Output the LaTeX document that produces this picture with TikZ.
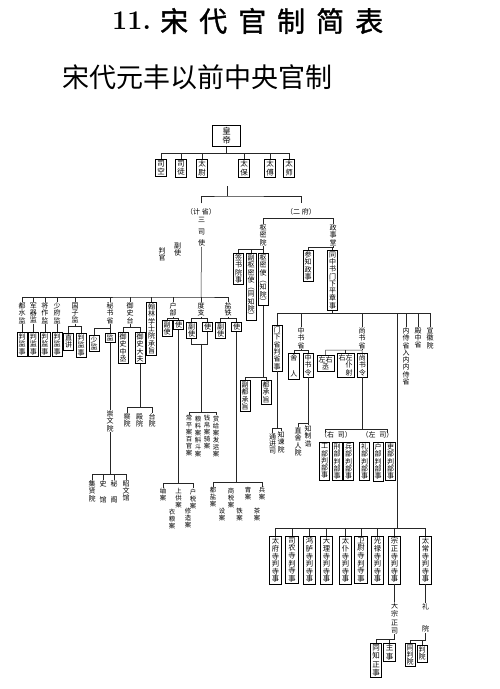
\documentclass[tikz,border=0pt]{standalone}
\usepackage{fontspec}
\newfontfamily\cjk{Noto Sans CJK SC}
\newfontfamily\cjkbold{Noto Sans CJK SC}[FakeBold=1.2]
\usetikzlibrary{positioning}
% vertical text: one character per line
\newcommand\vt[1]{\vtfirst#1\relax}
\def\vtfirst#1{#1\vtrest}
\def\vtrest#1{\ifx#1\relax\expandafter\vtstop\else\expandafter\vtgo\fi{#1}}
\def\vtstop#1{}
\def\vtgo#1{\\#1\vtrest}

\begin{document}
\begin{tikzpicture}
[x=1pt,y=-1pt,
lab/.style={font=\cjk\fontsize{7}{7.3}\selectfont,align=center,inner sep=0.4pt,anchor=north},
sm/.style={lab,font=\cjk\fontsize{6.4}{7}\selectfont},
box/.style={lab,draw,line width=0.55pt,inner xsep=1.6pt,inner ysep=1.4pt},
topbox/.style={box,font=\cjk\fontsize{7.5}{8.5}\selectfont},
sibox/.style={box,font=\cjk\fontsize{7.3}{7.6}\selectfont,inner xsep=2.6pt},
bigbox/.style={box,font=\cjk\fontsize{7.5}{8.3}\selectfont,inner xsep=2pt},
hlab/.style={font=\cjk\fontsize{7}{8}\selectfont,inner sep=0pt},
myedge/.style={line width=0.5pt,draw=black!85}]

\fill[white] (0,0) rectangle (500,689);
\useasboundingbox (0,0) rectangle (500,689);

% titles
\node (t1) [anchor=west,inner sep=0pt] at (112,21) {\fontsize{27}{30}\selectfont\bfseries 11.};
\node (t1b) [anchor=west,inner sep=0pt,font=\cjkbold\fontsize{28}{30}\selectfont] at (160,21)
  {宋\hspace{11pt}代\hspace{11pt}官\hspace{11pt}制\hspace{11pt}简\hspace{11pt}表};
\node (t2) [inner sep=0pt,font=\cjk\fontsize{27}{30}\selectfont] at (197.5,77.5) {宋代元丰以前中央官制};

% emperor and the six honorary posts
\node (emp) [box,font=\cjk\fontsize{8.5}{9.5}\selectfont,inner xsep=9.5pt,inner ysep=2pt] at (226.5,125) {\vt{皇帝}};
\node (sk) [topbox] at (161,159) {\vt{司空}};
\node (st) [topbox] at (181,159) {\vt{司徒}};
\node (tw) [topbox] at (202,159) {\vt{太尉}};
\node (tb) [topbox] at (244,159) {\vt{太保}};
\node (tf) [topbox] at (270,159) {\vt{太傅}};
\node (ts) [topbox] at (289,159) {\vt{太师}};
\draw[myedge] (emp.south) -- ++(0,6) coordinate (e1);
\draw[myedge] (sk.north) |- (e1) -| (ts.north);
\foreach \n in {st,tw,tb,tf} \draw[myedge] (\n.north) -- (\n.north |- e1);

% jisheng / erfu
\coordinate (c2) at (227,186);
\draw[myedge] (c2) -- ++(0,10) coordinate (e2);
\node (jsh) [hlab] at (201,212) {（计 省）};
\node (ef) [hlab] at (301,212) {（二 府）};
\draw[myedge] (jsh.north) ++(0,-5) |- (e2) -| ([yshift=5pt]ef.north);

\node (ssu) [lab,font=\cjk\fontsize{7}{11.5}\selectfont] at (201.5,217) {\vt{三司使}};
\node (fs0) [lab] at (177.5,242) {\vt{副使}};
\node (pg0) [lab] at (162,247) {\vt{判官}};

% left row of offices
\node (dsj) [lab] at (22,302) {\vt{都水监}};
\node (jqj) [lab] at (33.5,302) {\vt{军器监}};
\node (jzj) [lab] at (45,302) {\vt{将作监}};
\node (sfj) [lab] at (57,302) {\vt{少府监}};
\node (gzj) [lab] at (75,302) {\vt{国子监}};
\node (msh) [lab] at (110,302) {\vt{秘书省}};
\node (yst) [lab] at (130,302) {\vt{御史台}};
\node (hl) [box] at (151.5,302) {\vt{翰林学士院承旨}};
\node (hb) [lab] at (173,302) {\vt{户部}};
\node (dz) [lab] at (201,302) {\vt{度支}};
\node (yt) [lab] at (228,302) {\vt{盐铁}};
\coordinate (b3) at (201,297);
\draw[myedge] (ssu.south) -- (b3);
\draw[myedge] (dsj.north) |- (b3) -| (yt.north);
\foreach \n in {jqj,jzj,sfj,gzj,msh,yst,hl,hb,dz} \draw[myedge] (\n.north) -- (\n.north |- b3);

\node (dsj1) [box] at (22,332) {\vt{判监事}};
\node (jqj1) [box] at (33.5,332) {\vt{判监事}};
\node (jzj1) [box] at (45,332) {\vt{判监事}};
\node (sfj1) [box] at (57,332) {\vt{判监事}};
\foreach \n in {dsj,jqj,jzj,sfj} \draw[myedge] (\n.south) -- (\n1.north);

\node (zj) [box] at (68.5,333) {\vt{直讲}};
\node (gzj1) [box] at (81,333) {\vt{判监事}};
\draw[myedge] (gzj.south) -- ++(0,3) coordinate (g1);
\draw[myedge] (zj.north) |- (g1) -| (gzj1.north);

\node (sj) [box] at (94,335) {\vt{少监}};
\node (jian) [box] at (110,333) {监};
\draw[myedge] (msh.south) -- ++(0,4) coordinate (m1);
\draw[myedge] (sj.north) |- (m1) -- (jian.north);

\node (cwy) [lab] at (110,410) {\vt{崇文院}};
\draw[myedge] (jian.south) -- (cwy.north);
\node (jxy) [lab] at (92,480) {\vt{集贤院}};
\node (sg) [lab] at (103,480) {史\\[8.5pt]馆};
\node (mg) [lab] at (114,480) {秘\\[8.5pt]阁};
\node (zwg) [lab] at (126,480) {\vt{昭文馆}};
\draw[myedge] (jxy.north) -- ++(0,-6) coordinate (c1) -| (zwg.north);
\draw[myedge] (cwy.south) -- (cwy.south |- c1);
\foreach \n in {sg,mg} \draw[myedge] (\n.north) -- (\n.north |- c1);

\node (yszc) [box] at (123,332) {\vt{御史中丞}};
\node (ysdf) [box] at (140,332) {\vt{御史大夫}};
\draw[myedge] (yst.south) -- ++(0,3) coordinate (y1);
\draw[myedge] (yszc.north) |- (y1) -| (ysdf.north);
\node (cy) [lab] at (127,413) {\vt{察院}};
\node (dy) [lab] at (139.5,413) {\vt{殿院}};
\node (ty) [lab] at (152,413) {\vt{台院}};
\draw[myedge] (cy.north) -- ++(0,-6) coordinate (y2) -| (ty.north);
\draw[myedge] (ysdf.south) -- (ysdf.south |- y2);

% sansi: hubu
\node (hbf) [box] at (167,320) {\vt{副使}};
\node (hbs) [box] at (178.5,320) {使};
\draw[myedge] (hb.south) -- ++(0,1.5) coordinate (h1);
\draw[myedge] (hbf.north) |- (h1) -| (hbs.north);
\node (ca) [sm] at (163,488) {\vt{䌷案}};
\node (sga) [sm] at (178.5,488) {\vt{上供案}};
\node (hsa) [sm] at (193,488) {\vt{户税案}};
\node (yla) [sm] at (172,508) {\vt{衣粮案}};
\node (xza) [sm] at (188,508) {\vt{修造案}};
\draw[myedge] (ca.north) -- ++(0,-5) coordinate (h2) -| (hsa.north);
\draw[myedge] (hbs.south) -- (hbs.south |- h2);

% sansi: duzhi
\node (dzf) [box] at (191.5,322) {\vt{副使}};
\node (dzs) [box] at (207.5,322) {使};
\draw[myedge] (dz.south) -- ++(0,1.5) coordinate (d1);
\draw[myedge] (dzf.north) |- (d1) -| (dzs.north);
\draw[myedge] (dzf.south) -- ++(0,5) coordinate (d2) -| (dzs.south);
\node (cpa) [sm] at (189,415) {\vt{常平案百官案}};
\node (lla) [sm] at (198,415) {\vt{粮料案斛斗案}};
\node (qba) [sm] at (207,415) {\vt{钱帛案骑案}};
\node (sja) [sm] at (216,415) {\vt{赏给案发运案}};
\draw[myedge] (cpa.north) -- ++(0,-3) coordinate (d3) -| (sja.north);
\draw[myedge] (dz.south |- d2) -- (dz.south |- d3);

% sansi: yantie
\node (ytf) [box] at (220.5,322) {\vt{副使}};
\node (yts) [box] at (236.5,322) {使};
\draw[myedge] (yt.south) -- ++(0,1.5) coordinate (s1);
\draw[myedge] (ytf.north) |- (s1) -| (yts.north);
\node (dya) [sm] at (213,487) {\vt{都盐案}};
\node (ssa) [sm] at (231,487) {\vt{商税案}};
\node (zha) [sm] at (248,487) {\vt{胄案}};
\node (bga) [sm] at (262,487) {\vt{兵案}};
\node (sha) [sm] at (222,508) {\vt{设案}};
\node (tea) [sm] at (239.5,508) {\vt{铁案}};
\node (cha) [sm] at (257,508) {\vt{茶案}};
\draw[myedge] (dya.north) -- ++(0,-5) coordinate (s2) -| (bga.north);
\draw[myedge] (yts.south) -- (yts.south |- s2);

% erfu: shumiyuan
\node (smy) [lab] at (263,224) {\vt{枢密院}};
\node (zst) [lab] at (333,224) {\vt{政事堂}};
\draw[myedge] (smy.north) -- ++(0,-6) coordinate (f1) -| (zst.north);
\node (qs) [box] at (238.5,253) {\vt{签书院事}};
\node (fsm) [box] at (251,253) {\vt{副枢密使︵同知院︶}};
\node (smsh) [box] at (263,253) {\vt{枢密使︵知院︶}};
\draw[myedge] (smy.south) -- ++(0,3) coordinate (f2);
\draw[myedge] (qs.north) |- (f2) -- (smsh.north);
\draw[myedge] (fsm.north) -- (fsm.north |- f2);
\node (fdc) [box] at (245,380) {\vt{副都承旨}};
\node (dcz) [box] at (266,380) {\vt{都承旨}};
\draw[myedge] (fdc.north) -- ++(0,-3) coordinate (f3) -| (dcz.north);
\draw[myedge] (smsh.south) -- (smsh.south |- f3);

% erfu: zhengshitang
\node (czzs) [box] at (308,250) {\vt{参知政事}};
\node (tzs) [box] at (332.5,250) {\vt{同中书门下平章事}};
\draw[myedge] (zst.south) -- ++(0,1.5) coordinate (z1);
\draw[myedge] (czzs.north) |- (z1) -| (tzs.north);
\draw[myedge] (tzs.south) -- ++(0,3) coordinate (z2);

\node (mxs) [box] at (277,325) {\vt{门下省判省事}};
\node (zss) [lab] at (301,327) {\vt{中书省}};
\node (sss) [lab] at (362,327) {\vt{尚书省}};
\node (nsh) [lab] at (406,327) {\vt{内侍省入内内侍省}};
\node (dzsh) [lab] at (418,327) {\vt{殿中省}};
\node (xhy) [lab] at (430,327) {\vt{宣徽院}};
\draw[myedge] (mxs.north) |- (z2) -| (xhy.north);
\foreach \n in {zss,sss,nsh,dzsh} \draw[myedge] (\n.north) -- (\n.north |- z2);

\node (tjs) [lab] at (272.5,433) {\vt{通进司}};
\node (zjy) [lab] at (281,431) {\vt{知谏院}};
\draw[myedge] (tjs.north) -- ++(0,-5) coordinate (x3) -| (zjy.north);
\draw[myedge] (mxs.south) -- (mxs.south |- x3);

\node (sr) [box] at (293.8,353) {舍\\[9pt]人};
\node (zsl) [box] at (308,353) {\vt{中书令}};
\draw[myedge] (zss.south) -- ++(0,1.5) coordinate (x1);
\draw[myedge] (sr.north) |- (x1) -| (zsl.north);
\node (zsry) [lab] at (298,427) {\vt{直舍人院}};
\node (zzg) [lab] at (308,425) {\vt{知制诰}};
\draw[myedge] (zsry.north) -- ++(0,-4) coordinate (x2) -| (zzg.north);
\draw[myedge] (zsl.south) -- (zsl.south |- x2);

\node (zyc) [box] at (325.7,355) {左右\\丞};
\node (zypy) [box] at (345.7,353) {右左\\\hphantom{右}仆\\\hphantom{右}射};
\node (ssl) [box] at (362.3,353) {\vt{尚书令}};
\draw[myedge] (sss.south) -- ++(0,1) coordinate (q1);
\draw[myedge] (zyc.north) |- (q1) -- (ssl.north);
\draw[myedge] (zypy.north) -- (zypy.north |- q1);

\node (ys) [hlab] at (336,435) {（右\hspace{4pt}司）};
\node (zs) [hlab] at (377.5,435) {（左\hspace{4pt}司）};
\node (gb) [box] at (324.5,442) {\vt{工部判部事}};
\node (xb) [box] at (337,442) {\vt{刑部判部事}};
\node (bb) [box] at (348.5,442) {\vt{兵部判部事}};
\node (lb) [box] at (364.5,442) {\vt{礼部判部事}};
\node (hbb) [box] at (378,442) {\vt{户部判部事}};
\node (lbs) [box] at (390.5,442) {\vt{吏部判部事}};
\coordinate (q2) at (325,429);
\coordinate (q3) at (387,429);
\draw[myedge] (q2) ++(0,4) -- (q2) -- (q3) -- ++(0,4);
\draw[myedge] (ssl.south) -- (ssl.south |- q2);

% the nine courts
\node (tfs) [sibox] at (275.5,536) {\vt{太府寺判寺事}};
\node (sns) [sibox] at (292,536) {\vt{司农寺判寺事}};
\node (hls) [sibox] at (309.5,536) {\vt{鸿胪寺判寺事}};
\node (dls) [sibox] at (326.5,536) {\vt{大理寺判寺事}};
\node (tps) [sibox] at (345.5,536) {\vt{太仆寺判寺事}};
\node (wws) [sibox] at (361,536) {\vt{卫尉寺判寺事}};
\node (gls) [sibox] at (377.5,536) {\vt{光禄寺判寺事}};
\node (zzs) [sibox] at (394.5,536) {\vt{宗正寺判寺事}};
\node (tcs) [sibox] at (425.5,536) {\vt{太常寺判寺事}};
\draw[myedge] (tfs.north) -- ++(0,-8) coordinate (w1) -| (tcs.north);
\foreach \n in {sns,hls,dls,tps,wws,gls,zzs} \draw[myedge] (\n.north) -- (\n.north |- w1);
\coordinate (lng) at (397.5,0);
\draw[myedge] (lng |- z2) -- (lng |- w1);

\node (dzzs) [lab,font=\cjk\fontsize{7}{8.3}\selectfont] at (394.5,602) {\vt{大宗正司}};
\draw[myedge] (zzs.south) -- (dzzs.north);
\node (tzzs) [bigbox] at (376,643) {\vt{同知正事}};
\node (zsh) [bigbox] at (389.5,643) {\vt{主事}};
\draw[myedge] (tzzs.north) -- ++(0,-4) coordinate (w2);
\draw[myedge] (dzzs.south) |- (w2);
\draw[myedge] (zsh.north) -- (zsh.north |- w2);

\node (ly) [lab] at (425.5,603) {礼\\[15pt]院};
\draw[myedge] (tcs.south) -- (ly.north);
\node (tpy) [box] at (410,643) {\vt{同判院}};
\node (py) [box] at (422,645) {\vt{判院}};
\draw[myedge] (tpy.north) -- ++(0,-3) coordinate (w3);
\draw[myedge] (ly.south) |- (w3);
\draw[myedge] (py.north) -- (py.north |- w3);

\end{tikzpicture}
\end{document}
